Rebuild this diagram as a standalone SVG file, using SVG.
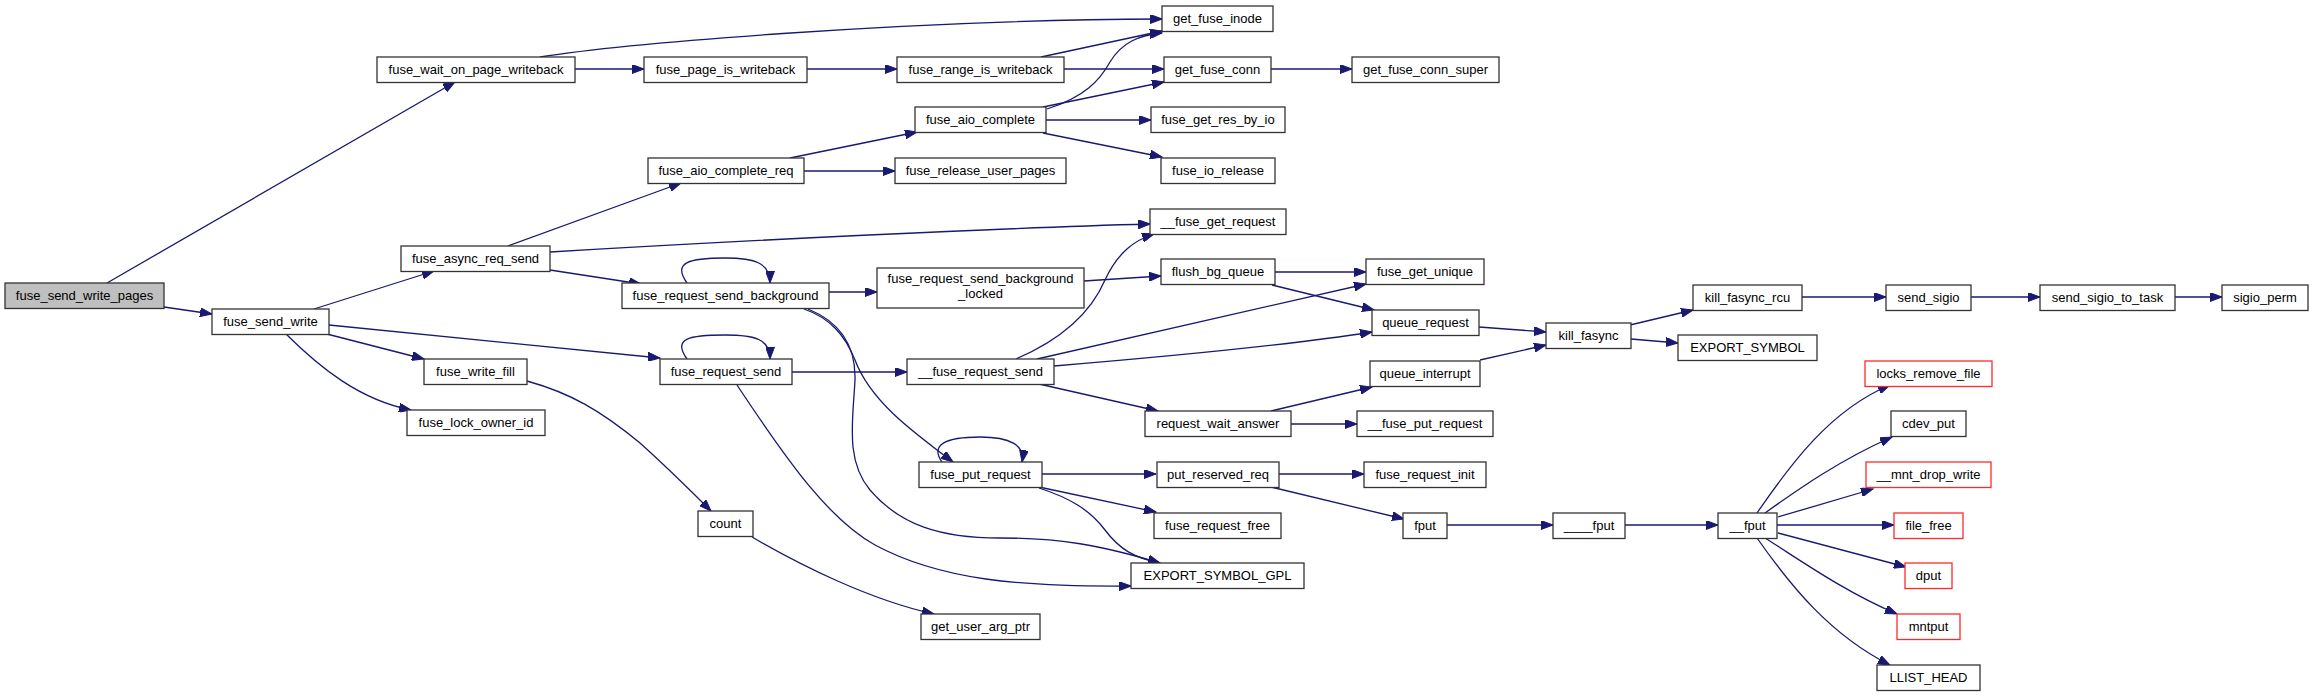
<svg xmlns="http://www.w3.org/2000/svg" width="2313" height="696" viewBox="0 0 2313 696">
<style>
.n rect{fill:#fff;stroke:#333;stroke-width:1.3}
.r rect{stroke:#ff2a2a}
.root rect{fill:#bfbfbf}
.n text{font-family:"Liberation Sans",Arial,sans-serif;font-size:13px;fill:#000;text-anchor:middle}
#edges path{fill:none;stroke:#191970;stroke-width:1.3;marker-end:url(#ah)}
</style>
<defs>
<marker id="ah" markerWidth="13" markerHeight="9" refX="12" refY="4.5" orient="auto" markerUnits="userSpaceOnUse">
<path d="M0,0 L12,4.5 L0,9 z" fill="#191970" stroke="#191970" stroke-width="1"/>
</marker>
</defs>
<rect width="2313" height="696" fill="#fff"/>
<g id="edges">
<path d="M107,283 L455,82"/>
<path d="M164,307 L212,314"/>
<path d="M540,57 C620,44 900,20 1162,19"/>
<path d="M575,69 H644"/>
<path d="M807,69 H897"/>
<path d="M1041,57 L1162,31"/>
<path d="M1064,69 H1164"/>
<path d="M1047,109 C1085,97 1100,80 1110,62 C1122,42 1140,35 1162,33"/>
<path d="M1043,107 L1164,82"/>
<path d="M1271,69 H1352"/>
<path d="M1046,120 H1151"/>
<path d="M1043,133 L1162,157"/>
<path d="M790,158 L917,132"/>
<path d="M804,171 H895"/>
<path d="M508,246 L681,183"/>
<path d="M550,252 C750,240 1000,228 1150,224"/>
<path d="M550,270 L641,284"/>
<path d="M687,283 C672,262 690,258 725,258 C755,258 770,263 770,283"/>
<path d="M829,292 H877"/>
<path d="M804,309 C830,318 845,335 855,360 C870,400 910,430 953,462"/>
<path d="M808,309 C840,322 856,345 855,380 C853,420 845,460 870,490 C900,525 940,538 1000,538 C1060,538 1100,545 1160,563"/>
<path d="M1039,488 C1070,498 1090,510 1105,530 C1120,550 1135,558 1160,563"/>
<path d="M737,385 C790,465 830,520 875,545 C940,580 1020,587 1131,586"/>
<path d="M687,359 C672,338 690,335 725,335 C755,335 770,339 770,359"/>
<path d="M792,372 H907"/>
<path d="M1084,281 L1161,276"/>
<path d="M1016,359 C1060,340 1090,315 1105,280 C1118,252 1135,240 1154,234"/>
<path d="M1037,359 L1366,284"/>
<path d="M1054,366 C1150,358 1290,345 1372,332"/>
<path d="M1039,384 L1158,411"/>
<path d="M1275,272 H1366"/>
<path d="M1272,285 L1374,310"/>
<path d="M314,309 L434,271"/>
<path d="M329,325 L660,358"/>
<path d="M323,333 L424,359"/>
<path d="M285,333 C320,368 360,400 411,410"/>
<path d="M527,381 C570,393 600,410 640,443 C670,470 690,490 711,511"/>
<path d="M752,537 C800,565 870,600 934,614"/>
<path d="M1479,327 L1546,332"/>
<path d="M1480,360 L1546,345"/>
<path d="M1630,325 L1693,310"/>
<path d="M1631,339 L1678,343"/>
<path d="M1802,297 H1886"/>
<path d="M1971,297 H2040"/>
<path d="M2175,297 H2222"/>
<path d="M1271,411 L1372,387"/>
<path d="M1291,424 H1357"/>
<path d="M942,462 C930,445 945,437 980,437 C1010,437 1025,445 1022,462"/>
<path d="M1042,474 H1156"/>
<path d="M1039,487 L1156,512"/>
<path d="M1279,474 H1364"/>
<path d="M1271,487 L1404,519"/>
<path d="M1447,525 H1553"/>
<path d="M1625,525 H1718"/>
<path d="M1757,513 C1790,465 1830,410 1890,385"/>
<path d="M1765,513 C1800,488 1840,460 1892,437"/>
<path d="M1778,517 L1873,489"/>
<path d="M1777,525 H1894"/>
<path d="M1778,533 L1906,567"/>
<path d="M1765,538 C1800,560 1845,592 1897,614"/>
<path d="M1757,538 C1790,585 1830,635 1890,665"/>
</g>
<g id="fuse_send_write_pages" class="n root"><rect x="5" y="283" width="159" height="25.5"/><text x="84.5" y="300.3">fuse_send_write_pages</text></g>
<g id="fuse_send_write" class="n"><rect x="212" y="309" width="117" height="25.5"/><text x="270.5" y="326.3">fuse_send_write</text></g>
<g id="fuse_wait_on_page_writeback" class="n"><rect x="377" y="57" width="198" height="25.5"/><text x="476" y="74.3">fuse_wait_on_page_writeback</text></g>
<g id="fuse_async_req_send" class="n"><rect x="401" y="246" width="149" height="25.5"/><text x="475.5" y="263.3">fuse_async_req_send</text></g>
<g id="fuse_write_fill" class="n"><rect x="424" y="359" width="103" height="25.5"/><text x="475.5" y="376.3">fuse_write_fill</text></g>
<g id="fuse_lock_owner_id" class="n"><rect x="407" y="410" width="138" height="25.5"/><text x="476" y="427.3">fuse_lock_owner_id</text></g>
<g id="fuse_page_is_writeback" class="n"><rect x="644" y="57" width="163" height="25.5"/><text x="725.5" y="74.3">fuse_page_is_writeback</text></g>
<g id="fuse_aio_complete_req" class="n"><rect x="648" y="158" width="156" height="25.5"/><text x="726" y="175.3">fuse_aio_complete_req</text></g>
<g id="fuse_request_send_background" class="n"><rect x="622" y="283" width="207" height="25.5"/><text x="725.5" y="300.3">fuse_request_send_background</text></g>
<g id="fuse_request_send" class="n"><rect x="660" y="359" width="132" height="25.5"/><text x="726" y="376.3">fuse_request_send</text></g>
<g id="count" class="n"><rect x="698" y="511" width="55" height="25.5"/><text x="725.5" y="528.3">count</text></g>
<g id="fuse_range_is_writeback" class="n"><rect x="897" y="57" width="167" height="25.5"/><text x="980.5" y="74.3">fuse_range_is_writeback</text></g>
<g id="fuse_aio_complete" class="n"><rect x="915" y="107" width="131" height="25.5"/><text x="980.5" y="124.3">fuse_aio_complete</text></g>
<g id="fuse_release_user_pages" class="n"><rect x="895" y="158" width="171" height="25.5"/><text x="980.5" y="175.3">fuse_release_user_pages</text></g>
<g id="fuse_request_send_background_locked" class="n"><rect x="877" y="268" width="207" height="40"/><text x="980.5" y="283">fuse_request_send_background</text><text x="980.5" y="298">_locked</text></g>
<g id="__fuse_request_send" class="n"><rect x="907" y="359" width="147" height="25.5"/><text x="980.5" y="376.3">__fuse_request_send</text></g>
<g id="fuse_put_request" class="n"><rect x="919" y="462" width="123" height="25.5"/><text x="980.5" y="479.3">fuse_put_request</text></g>
<g id="get_user_arg_ptr" class="n"><rect x="921" y="614" width="119" height="25.5"/><text x="980.5" y="631.3">get_user_arg_ptr</text></g>
<g id="get_fuse_inode" class="n"><rect x="1162" y="6" width="111" height="25.5"/><text x="1217.5" y="23.3">get_fuse_inode</text></g>
<g id="get_fuse_conn" class="n"><rect x="1164" y="57" width="107" height="25.5"/><text x="1217.5" y="74.3">get_fuse_conn</text></g>
<g id="fuse_get_res_by_io" class="n"><rect x="1151" y="107" width="134" height="25.5"/><text x="1218" y="124.3">fuse_get_res_by_io</text></g>
<g id="fuse_io_release" class="n"><rect x="1161" y="158" width="114" height="25.5"/><text x="1218" y="175.3">fuse_io_release</text></g>
<g id="__fuse_get_request" class="n"><rect x="1150" y="209" width="136" height="25.5"/><text x="1218" y="226.3">__fuse_get_request</text></g>
<g id="flush_bg_queue" class="n"><rect x="1161" y="259" width="114" height="25.5"/><text x="1218" y="276.3">flush_bg_queue</text></g>
<g id="request_wait_answer" class="n"><rect x="1145" y="411" width="146" height="25.5"/><text x="1218" y="428.3">request_wait_answer</text></g>
<g id="put_reserved_req" class="n"><rect x="1157" y="462" width="122" height="25.5"/><text x="1218" y="479.3">put_reserved_req</text></g>
<g id="fuse_request_free" class="n"><rect x="1154" y="513" width="127" height="25.5"/><text x="1217.5" y="530.3">fuse_request_free</text></g>
<g id="EXPORT_SYMBOL_GPL" class="n"><rect x="1131" y="563" width="173" height="25.5"/><text x="1217.5" y="580.3">EXPORT_SYMBOL_GPL</text></g>
<g id="get_fuse_conn_super" class="n"><rect x="1352" y="57" width="147" height="25.5"/><text x="1425.5" y="74.3">get_fuse_conn_super</text></g>
<g id="fuse_get_unique" class="n"><rect x="1366" y="259" width="118" height="25.5"/><text x="1425" y="276.3">fuse_get_unique</text></g>
<g id="queue_request" class="n"><rect x="1372" y="310" width="107" height="25.5"/><text x="1425.5" y="327.3">queue_request</text></g>
<g id="queue_interrupt" class="n"><rect x="1370" y="361" width="110" height="25.5"/><text x="1425" y="378.3">queue_interrupt</text></g>
<g id="__fuse_put_request" class="n"><rect x="1357" y="411" width="136" height="25.5"/><text x="1425" y="428.3">__fuse_put_request</text></g>
<g id="fuse_request_init" class="n"><rect x="1364" y="462" width="122" height="25.5"/><text x="1425" y="479.3">fuse_request_init</text></g>
<g id="fput" class="n"><rect x="1403" y="513" width="44" height="25.5"/><text x="1425" y="530.3">fput</text></g>
<g id="kill_fasync" class="n"><rect x="1546" y="323" width="85" height="25.5"/><text x="1588.5" y="340.3">kill_fasync</text></g>
<g id="____fput" class="n"><rect x="1553" y="513" width="72" height="25.5"/><text x="1589" y="530.3">____fput</text></g>
<g id="kill_fasync_rcu" class="n"><rect x="1693" y="285" width="109" height="25.5"/><text x="1747.5" y="302.3">kill_fasync_rcu</text></g>
<g id="EXPORT_SYMBOL" class="n"><rect x="1678" y="335" width="139" height="25.5"/><text x="1747.5" y="352.3">EXPORT_SYMBOL</text></g>
<g id="__fput" class="n"><rect x="1718" y="513" width="59" height="25.5"/><text x="1747.5" y="530.3">__fput</text></g>
<g id="send_sigio" class="n"><rect x="1886" y="285" width="85" height="25.5"/><text x="1928.5" y="302.3">send_sigio</text></g>
<g id="locks_remove_file" class="n r"><rect x="1865" y="361" width="127" height="25.5"/><text x="1928.5" y="378.3">locks_remove_file</text></g>
<g id="cdev_put" class="n"><rect x="1891" y="411" width="75" height="25.5"/><text x="1928.5" y="428.3">cdev_put</text></g>
<g id="__mnt_drop_write" class="n r"><rect x="1866" y="462" width="125" height="25.5"/><text x="1928.5" y="479.3">__mnt_drop_write</text></g>
<g id="file_free" class="n r"><rect x="1894" y="513" width="69" height="25.5"/><text x="1928.5" y="530.3">file_free</text></g>
<g id="dput" class="n r"><rect x="1905" y="563" width="47" height="25.5"/><text x="1928.5" y="580.3">dput</text></g>
<g id="mntput" class="n r"><rect x="1897" y="614" width="63" height="25.5"/><text x="1928.5" y="631.3">mntput</text></g>
<g id="LLIST_HEAD" class="n"><rect x="1877" y="665" width="103" height="25.5"/><text x="1928.5" y="682.3">LLIST_HEAD</text></g>
<g id="send_sigio_to_task" class="n"><rect x="2040" y="285" width="135" height="25.5"/><text x="2107.5" y="302.3">send_sigio_to_task</text></g>
<g id="sigio_perm" class="n"><rect x="2222" y="285" width="86" height="25.5"/><text x="2265" y="302.3">sigio_perm</text></g>
</svg>
